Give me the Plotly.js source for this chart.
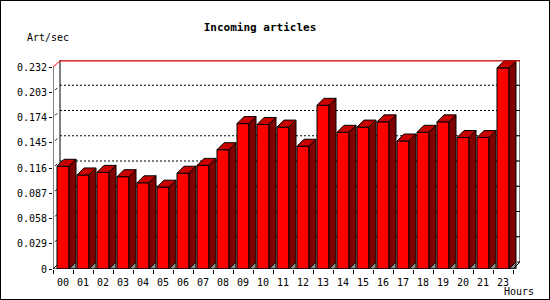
<!DOCTYPE html>
<html>
<head>
<meta charset="utf-8">
<script src="https://cdn.plot.ly/plotly-3.0.1.min.js"></script>
<style>
  html, body { margin: 0; padding: 0; background: #fff; }
  #wrap { position: relative; width: 550px; height: 300px; }
  #chart { width: 550px; height: 300px; }
  #frame { position: absolute; left: 0; top: 0; width: 550px; height: 300px; box-sizing: border-box; border: 1px solid #000; pointer-events: none; }
</style>
</head>
<body>
<div id="wrap"><div id="chart"></div><div id="frame"></div></div>
<script>
// ---- data ----
const hours = ['00','01','02','03','04','05','06','07','08','09','10','11','12','13','14','15','16','17','18','19','20','21','23'];
const artPerSec = [0.118, 0.108, 0.111, 0.106, 0.099, 0.094, 0.110, 0.119, 0.137, 0.167, 0.166, 0.163, 0.141, 0.188, 0.157, 0.163, 0.169, 0.147, 0.157, 0.169, 0.151, 0.151, 0.231];
const yTicks = [0, 0.029, 0.058, 0.087, 0.116, 0.145, 0.174, 0.203, 0.232];
const yTickText = ['0', '0.029', '0.058', '0.087', '0.116', '0.145', '0.174', '0.203', '0.232'];

// ---- geometry ----
const W = 550, H = 300;
const mL = 53, mR = 30, mT = 60, mB = 31;
const depthPx = 7;
const n = hours.length;
const plotW = W - mL - mR, plotH = H - mT - mB;
const pxPerX = (plotW - depthPx) / n;
const dx = depthPx / pxPerX;
const yMax = yTicks[yTicks.length - 1];
const pxPerY = (plotH - depthPx) / yMax;
const dy = depthPx / pxPerY;
const onePxY = 1 / pxPerY;
const hw = 0.3; // half bar width in category units
const xs = hours.map((h, i) => i);

// 3D faces
const topX = [], topY = [], sideX = [], sideY = [], shX = [], shY = [];
artPerSec.forEach((v, i) => {
  const l = i - hw, r = i + hw;
  topX.push(l, r, r + dx, l + dx, l, null);
  topY.push(v, v, v + dy, v + dy, v, null);
  sideX.push(r, r, r + dx, r + dx, r, null);
  sideY.push(0, v, v + dy, dy, 0, null);
  shX.push(r, r + dx, r + dx, r, null);
  shY.push(0, dy, 0, 0, null);
});

const traces = [
  { type: 'bar', x: xs, y: artPerSec, width: 2 * hw,
    marker: { color: '#ff0000', line: { color: '#000', width: 1 } },
    hoverinfo: 'skip', showlegend: false },
  { type: 'scatter', mode: 'lines', x: shX, y: shY, fill: 'toself', fillcolor: '#8c8c8c',
    line: { color: '#000', width: 1 }, hoverinfo: 'skip', showlegend: false },
  { type: 'scatter', mode: 'lines', x: sideX, y: sideY, fill: 'toself', fillcolor: '#800000',
    line: { color: '#000', width: 1 }, hoverinfo: 'skip', showlegend: false },
  { type: 'scatter', mode: 'lines', x: topX, y: topY, fill: 'toself', fillcolor: '#c80000',
    line: { color: '#000', width: 1 }, hoverinfo: 'skip', showlegend: false }
];

const xL = -0.5, xR = n - 0.5;
const shapes = [];
const ln = (x0, y0, x1, y1, color, dash, layer) => shapes.push({
  type: 'line', xref: 'x', yref: 'y', x0, y0, x1, y1,
  line: { color: color || '#000', width: 1, dash: dash || 'solid' }, layer: layer || 'below' });

// back wall gridlines (dotted) and right-wall ticks
yTicks.forEach((v, k) => {
  if (k > 0 && k < yTicks.length - 1) ln(xL + dx, v + dy, xR + dx, v + dy, '#000', '2px,2px');
  ln(xR + dx - 3 / pxPerX, v + dy, xR + dx, v + dy);
  if (k > 0 && k < yTicks.length - 1) ln(xL + dx * 0.3, v + dy * 0.3, xL + dx * 0.6, v + dy * 0.6);
});
// back wall frame
ln(xL + dx, dy, xL + dx, yMax + dy);
ln(xR + dx, dy, xR + dx, yMax + dy);
ln(xL + dx, yMax + dy, xR + dx, yMax + dy);
// red top edge
shapes.push({ type: 'path', xref: 'x', yref: 'y', layer: 'above',
  path: `M${xL},${yMax} L${xL + dx},${yMax + dy - onePxY} L${xR + dx},${yMax + dy - onePxY}`,
  line: { color: '#ff0000', width: 1 } });
// front axes and diagonals
ln(xL, 0, xL, yMax, '#000', 'solid', 'above');
ln(xL, 0, xR, 0, '#000', 'solid', 'above');
ln(xL, 0, xL + dx, dy, '#000', 'solid', 'below');
ln(xR, 0, xR + dx, dy, '#000', 'solid', 'above');

const boundaries = hours.map((h, i) => i - 0.5).concat([n - 0.5]);
const mono = 'DejaVu Sans Mono, Liberation Mono, monospace';

const layout = {
  width: W, height: H,
  margin: { l: mL, r: mR, t: mT, b: mB, pad: 0, autoexpand: false },
  paper_bgcolor: '#fff', plot_bgcolor: 'rgba(0,0,0,0)',
  showlegend: false,
  bargap: 0,
  title: { text: '<b>Incoming articles</b>', xref: 'container', yref: 'container',
    x: 260 / W, y: 1 - 26.7 / H, xanchor: 'center', yanchor: 'middle',
    font: { family: mono, size: 11, color: '#000' } },
  xaxis: { range: [xL, xR + dx], tickmode: 'array', tickvals: boundaries, ticktext: boundaries.map(() => ''),
    ticks: 'outside', ticklen: 4, tickcolor: '#000', tickwidth: 1, showticklabels: false,
    showgrid: false, zeroline: false, showline: false, fixedrange: true },
  xaxis2: { overlaying: 'x', anchor: 'y', side: 'bottom', range: [xL, xR + dx], tickmode: 'array',
    tickvals: xs, ticktext: hours, ticks: 'outside', ticklen: 4, tickcolor: 'rgba(0,0,0,0)',
    tickfont: { family: mono, size: 10, color: '#000' },
    showgrid: false, zeroline: false, showline: false, fixedrange: true },
  yaxis: { range: [0, yMax + dy], tickmode: 'array', tickvals: yTicks, ticktext: yTickText,
    ticks: 'outside', ticklen: 3, tickcolor: '#000', tickwidth: 1,
    tickfont: { family: mono, size: 10, color: '#000' },
    showgrid: false, zeroline: false, showline: false, fixedrange: true },
  shapes: shapes,
  annotations: [
    { text: 'Art/sec', xref: 'paper', yref: 'paper', x: (47.8 - mL) / plotW, y: (H - mB - 37.3) / plotH,
      xanchor: 'center', yanchor: 'middle', showarrow: false, font: { family: mono, size: 10, color: '#000' } },
    { text: 'Hours', xref: 'paper', yref: 'paper', x: (519 - mL) / plotW, y: (H - mB - 291.5) / plotH,
      xanchor: 'center', yanchor: 'middle', showarrow: false, font: { family: mono, size: 10, color: '#000' } }
  ]
};

// dummy invisible trace on xaxis2 so the axis renders
traces.push({ type: 'scatter', mode: 'markers', x: [xs[0]], y: [0], xaxis: 'x2', yaxis: 'y',
  marker: { opacity: 0 }, hoverinfo: 'skip', showlegend: false });

Plotly.newPlot('chart', traces, layout, { staticPlot: true, displayModeBar: false });
</script>
</body>
</html>
